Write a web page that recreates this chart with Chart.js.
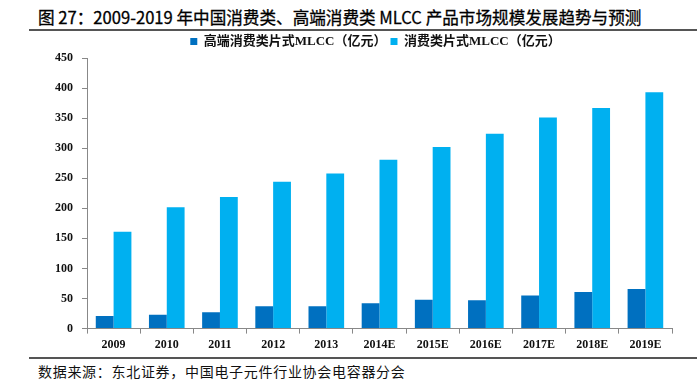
<!DOCTYPE html>
<html><head><meta charset="utf-8">
<script src="https://cdn.jsdelivr.net/npm/chart.js@4/dist/chart.umd.min.js"></script>
<style>
html,body{margin:0;padding:0;background:#fff;overflow:hidden;}
#wrap{position:relative;width:697px;height:381px;}
#title{position:absolute;left:38px;top:5px;font-family:"Noto Sans CJK SC";font-size:16.6px;font-weight:normal;color:#000;white-space:nowrap;line-height:24px;-webkit-text-stroke:0.3px #000;}
.rule{position:absolute;left:29px;width:668px;height:2px;background:#555;}
#footer{position:absolute;left:38px;top:361px;font-family:"Noto Sans CJK SC";font-size:14px;letter-spacing:0.7px;color:#111;white-space:nowrap;line-height:20px;}
canvas{position:absolute;left:0;top:0;}
</style></head>
<body><div id="wrap">
<div id="title">图 27：2009-2019 年中国消费类、高端消费类 MLCC 产品市场规模发展趋势与预测</div>
<div class="rule" style="top:29px"></div>
<canvas id="c" width="697" height="356"></canvas>
<div class="rule" style="top:357px"></div>
<div id="footer">数据来源：东北证券，中国电子元件行业协会电容器分会</div>
</div>
<script>
const categories = ["2009","2010","2011","2012","2013","2014E","2015E","2016E","2017E","2018E","2019E"];
const highEnd = [21, 23, 27, 37, 37, 42, 48, 47, 55, 61, 66];
const consumer = [161, 202, 219, 244, 258, 281, 302, 324, 351, 367, 393];
const seriesNames = ["高端消费类片式MLCC（亿元）", "消费类片式MLCC（亿元）"];

const tickFont = {family: "'Liberation Serif'", size: 12, weight: 'bold'};
new Chart(document.getElementById('c'), {
  type: 'bar',
  data: {
    labels: categories,
    datasets: [
      {label: seriesNames[0], data: highEnd, backgroundColor: '#0070C0', categoryPercentage: 0.67, barPercentage: 1.0},
      {label: seriesNames[1], data: consumer, backgroundColor: '#00B0F0', categoryPercentage: 0.67, barPercentage: 1.0}
    ]
  },
  options: {
    responsive: false,
    animation: false,
    layout: {padding: {left: 54, right: 0, top: 31, bottom: 0}},
    plugins: {
      legend: {
        position: 'top',
        labels: {boxWidth: 7, boxHeight: 7, padding: 4, color: '#111',
          font: {family: "'Liberation Serif','Noto Sans CJK SC'", size: 13, weight: 'bold'}}
      },
      tooltip: {enabled: false}
    },
    scales: {
      x: {
        grid: {display: true, drawOnChartArea: false, drawTicks: true, tickLength: 5, color: '#888', offset: true},
        border: {display: true, color: '#888', width: 1},
        ticks: {font: tickFont, color: '#111', padding: 4, maxRotation: 0, autoSkip: false}
      },
      y: {
        min: 0, max: 450,
        grid: {display: true, drawOnChartArea: false, drawTicks: true, tickLength: 5, color: '#888'},
        border: {display: true, color: '#888', width: 1},
        ticks: {stepSize: 50, font: tickFont, color: '#111', padding: 9},
        afterFit: s => { s.width = 33; }
      },
      y2: {
        position: 'right', display: true,
        grid: {display: false, drawTicks: false},
        border: {display: false},
        ticks: {display: false},
        afterFit: s => { s.width = 25; }
      }
    }
  }
});
</script>
</body></html>
